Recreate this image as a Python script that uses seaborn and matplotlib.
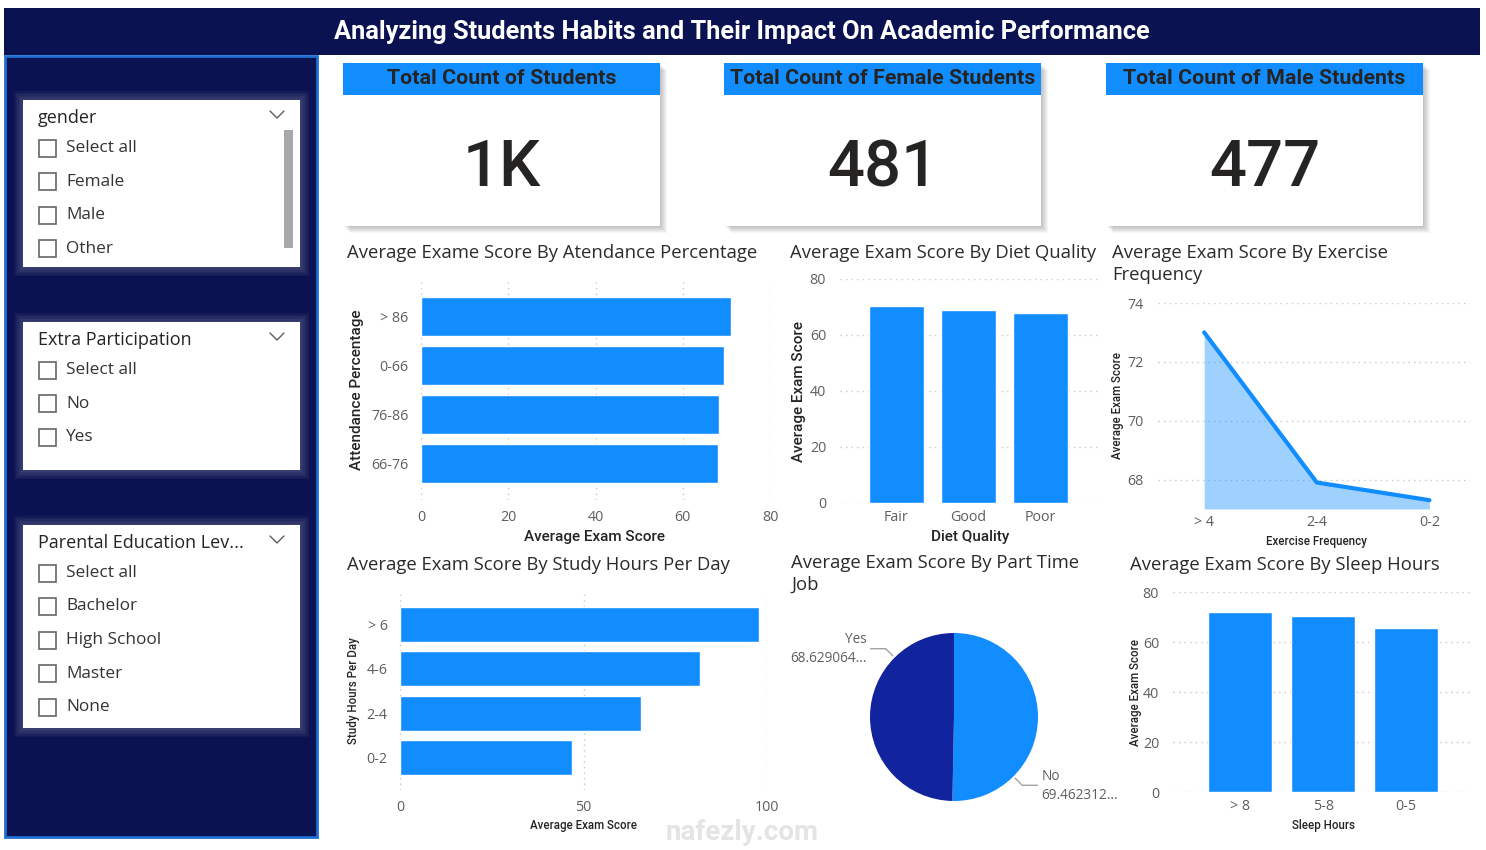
import numpy as np
import pandas as pd
import matplotlib
matplotlib.use("Agg")
import matplotlib.pyplot as plt
import seaborn as sns
from matplotlib.patches import Rectangle

# ---------------- data ----------------
page_title = "Analyzing Students Habits and Their Impact On Academic Performance"

kpi_titles = ["Total Count of Students", "Total Count of Female Students", "Total Count of Male Students"]
kpi_values = ["1K", "481", "477"]

slicer_titles = ["gender", "Extra Participation", "Parental Education Lev..."]
slicer_items = [
    ["Select all", "Female", "Male", "Other"],
    ["Select all", "No", "Yes"],
    ["Select all", "Bachelor", "High School", "Master", "None"],
]

attendance_cats = ["> 86", "0-66", "76-86", "66-76"]
attendance_scores = [71.0, 69.4, 68.3, 68.1]

diet_cats = ["Fair", "Good", "Poor"]
diet_scores = [70.3, 68.9, 67.8]

exercise_cats = ["> 4", "2-4", "0-2"]
exercise_scores = [73.0, 67.9, 67.3]

study_cats = ["> 6", "4-6", "2-4", "0-2"]
study_scores = [97.9, 81.8, 65.7, 46.8]

parttime_cats = ["No", "Yes"]
parttime_scores = [69.462312, 68.629064]
parttime_labels = ["69.462312...", "68.629064..."]

sleep_cats = ["> 8", "5-8", "0-5"]
sleep_scores = [71.9, 70.3, 65.5]

# ---------------- style ----------------
W, H = 1486, 850
BLUE = "#118DFF"
NAVY = "#12239E"
DARK = "#0B1251"
TXT = "#252423"
TICK = "#605E5C"
GRID = "#C8C8C8"
TICKFONT = ["Open Sans", "DejaVu Sans"]

sns.set_theme(style="white")
plt.rcParams["font.family"] = ["Roboto", "DejaVu Sans"]

fig = plt.figure(figsize=(W / 100, H / 100), dpi=100)
fig.patch.set_facecolor("white")

bg = fig.add_axes([0, 0, 1, 1])
bg.set_xlim(0, W)
bg.set_ylim(H, 0)
bg.axis("off")


def rect_px(x0, y0, x1, y1):
    return [x0 / W, 1 - y1 / H, (x1 - x0) / W, (y1 - y0) / H]


def box(x0, y0, x1, y1, **kw):
    bg.add_patch(Rectangle((x0, y0), x1 - x0, y1 - y0, **kw))


# header
box(4, 8, 1480, 55, facecolor=DARK, edgecolor="none")
bg.text(742, 32, page_title, color="white", fontsize=18.3, fontweight="bold",
        ha="center", va="center", family=["Roboto", "DejaVu Sans"])

# left panel
box(5, 56, 317, 837, facecolor=DARK, edgecolor="#1F6FD1", linewidth=2)

slicer_boxes = [(23, 100, 300, 267), (23, 322, 300, 470), (23, 525, 300, 728)]
for (x0, y0, x1, y1), title, items in zip(slicer_boxes, slicer_titles, slicer_items):
    for g in range(6, 0, -1):
        box(x0 - g * 1.5, y0 - g * 1.5, x1 + g * 1.5, y1 + g * 1.5,
            facecolor="white", alpha=0.035, edgecolor="none")
    box(x0, y0, x1, y1, facecolor="white", edgecolor="none")
    bg.text(38, y0 + 18, title, color=TXT, fontsize=13, ha="left", va="center",
            family=["Open Sans", "DejaVu Sans"])
    bg.plot([270, 277, 284], [y0 + 11, y0 + 18, y0 + 11], color="#605E5C", lw=1)
    for i, it in enumerate(items):
        yy = y0 + 48 + i * 33.5
        box(38.5, yy - 8.5, 55.5, yy + 8.5, facecolor="white", edgecolor="#666666", lw=1.2)
        bg.text(66, yy, it, color="#333333", fontsize=12.4, ha="left", va="center",
                family=["Open Sans", "DejaVu Sans"])
# scrollbar in gender slicer
box(284, 130, 293, 248, facecolor="#A8A8A8", edgecolor="none")

# KPI cards
card_x = [(343, 660), (724, 1041), (1106, 1423)]
for (x0, x1), t, v in zip(card_x, kpi_titles, kpi_values):
    for g in range(1, 8):
        box(x0 + g, 63 + g, x1 + g, 226 + g, facecolor="#000000", alpha=0.035, edgecolor="none")
    box(x0, 63, x1, 226, facecolor="white", edgecolor="none")
    box(x0, 63, x1, 95, facecolor=BLUE, edgecolor="none")
    bg.text((x0 + x1) / 2, 78, t, color=TXT, fontsize=15.4, fontweight="bold",
            ha="center", va="center", family=["Roboto", "DejaVu Sans"])
    bg.text((x0 + x1) / 2, 168, v, color=TXT, fontsize=47, fontweight="medium",
            ha="center", va="center", family=["Roboto", "DejaVu Sans"])


def chart_title(x, y, s):
    bg.text(x, y, s, color="#2B2B2B", fontsize=13.3, ha="left", va="center",
            linespacing=1.3, family=["Open Sans", "DejaVu Sans"])


def style_ax(ax, grid_axis):
    ax.set_facecolor("none")
    for s in ax.spines.values():
        s.set_visible(False)
    ax.grid(axis=grid_axis, linestyle=(0, (1, 3)), color=GRID, linewidth=1)
    ax.set_axisbelow(True)
    ax.tick_params(length=0, labelcolor=TICK, labelsize=10.3)
    for lab in ax.get_xticklabels() + ax.get_yticklabels():
        lab.set_family(TICKFONT)


def place_label(ax, rect, which, px, py, text, size, weight="medium"):
    x0, y0, x1, y1 = rect
    axx = (px - x0) / (x1 - x0)
    axy = (y1 - py) / (y1 - y0)
    if which == "x":
        ax.set_xlabel(text, fontsize=size, color=TXT, fontweight=weight)
        ax.xaxis.set_label_coords(axx, axy)
        ax.xaxis.label.set_va("center")
    else:
        ax.set_ylabel(text, fontsize=size, color=TXT, fontweight=weight)
        ax.yaxis.set_label_coords(axx, axy)
        ax.yaxis.label.set_va("center")
        ax.yaxis.label.set_ha("center")


# ---- chart 1: attendance ----
chart_title(347, 253, "Average Exame Score By Atendance Percentage")
r1 = (421, 280, 770, 500)
ax1 = fig.add_axes(rect_px(*r1))
df1 = pd.DataFrame({"cat": attendance_cats, "score": attendance_scores})
sns.barplot(data=df1, x="score", y="cat", orient="h", order=attendance_cats,
            color=BLUE, saturation=1, width=0.8, ax=ax1)
ax1.set_xlim(0, 80)
ax1.set_xticks([0, 20, 40, 60, 80])
ax1.set_ylim(3.74, -0.74)
style_ax(ax1, "x")
ax1.tick_params(axis="x", pad=7)
ax1.tick_params(axis="y", pad=9)
place_label(ax1, r1, "x", 595, 537, "Average Exam Score", 11)
place_label(ax1, r1, "y", 357, 390, "Attendance Percentage", 11)

# ---- chart 2: diet ----
chart_title(790, 253, "Average Exam Score By Diet Quality")
r2 = (840, 279, 1100, 503)
ax2 = fig.add_axes(rect_px(*r2))
df2 = pd.DataFrame({"cat": diet_cats, "score": diet_scores})
sns.barplot(data=df2, x="cat", y="score", order=diet_cats, color=BLUE,
            saturation=1, width=0.76, ax=ax2)
ax2.set_ylim(0, 80)
ax2.set_yticks([0, 20, 40, 60, 80])
ax2.set_xlim(-0.78, 2.82)
style_ax(ax2, "y")
ax2.tick_params(axis="x", pad=5)
ax2.tick_params(axis="y", pad=10)
place_label(ax2, r2, "x", 970, 537, "Diet Quality", 11)
place_label(ax2, r2, "y", 799, 391, "Average Exam Score", 11)

# ---- chart 3: exercise ----
chart_title(1112, 264, "Average Exam Score By Exercise\nFrequency")
r3 = (1158, 303, 1470, 509)
ax3 = fig.add_axes(rect_px(*r3))
df3 = pd.DataFrame({"cat": exercise_cats, "score": exercise_scores})
sns.lineplot(data=df3, x="cat", y="score", sort=False, color=BLUE, linewidth=3, ax=ax3)
ax3.fill_between(df3["cat"], df3["score"], 67, color=BLUE, alpha=0.4, linewidth=0)
ax3.set_ylim(67, 74)
ax3.set_yticks([68, 70, 72, 74])
ax3.set_xlim(-0.41, 2.36)
style_ax(ax3, "y")
ax3.tick_params(axis="x", pad=4)
ax3.tick_params(axis="y", pad=10)
place_label(ax3, r3, "x", 1316, 541, "Exercise Frequency", 8.3)
place_label(ax3, r3, "y", 1118, 405, "Average Exam Score", 8.3)

# ---- chart 4: study hours ----
chart_title(347, 565, "Average Exam Score By Study Hours Per Day")
r4 = (400, 592, 767, 790)
ax4 = fig.add_axes(rect_px(*r4))
df4 = pd.DataFrame({"cat": study_cats, "score": study_scores})
sns.barplot(data=df4, x="score", y="cat", orient="h", order=study_cats,
            color=BLUE, saturation=1, width=0.79, ax=ax4)
ax4.set_xlim(0, 100)
ax4.set_xticks([0, 50, 100])
ax4.set_ylim(3.73, -0.73)
style_ax(ax4, "x")
ax4.tick_params(axis="x", pad=7)
ax4.tick_params(axis="y", pad=9)
place_label(ax4, r4, "x", 583, 826, "Average Exam Score", 8.3)
place_label(ax4, r4, "y", 353, 691, "Study Hours Per Day", 8.3)

# ---- chart 5: part-time job pie ----
chart_title(791, 574, "Average Exam Score By Part Time\nJob")
r5 = (870, 633, 1038, 801)
ax5 = fig.add_axes(rect_px(*r5))
ax5.pie(parttime_scores, colors=[BLUE, NAVY], startangle=90, counterclock=False,
        radius=1.0, wedgeprops=dict(linewidth=0))
ax5.set_xlim(-1, 1)
ax5.set_ylim(-1, 1)
ax5.set_aspect("equal")
ax5.axis("off")
label_angles = [-45, 135]
for cat, lab, ang in zip(parttime_cats, parttime_labels, label_angles):
    a = np.deg2rad(ang)
    cx, cy = np.cos(a), np.sin(a)
    p0 = (1.03 * cx, 1.03 * cy)
    p1 = (1.15 * cx, 1.15 * cy)
    sgn = 1 if cx > 0 else -1
    p2 = (p1[0] + sgn * 0.18, p1[1])
    ax5.plot([p0[0], p1[0], p2[0]], [p0[1], p1[1], p2[1]], color="#A0A0A0", lw=1, clip_on=False)
    ha = "left" if sgn > 0 else "right"
    tx = p2[0] + sgn * 0.05
    ax5.text(tx, p2[1] + 0.11, cat, ha=ha, va="center", fontsize=9.8, color=TICK,
             family=TICKFONT)
    ax5.text(tx, p2[1] - 0.12, lab, ha=ha, va="center", fontsize=9.8, color=TICK,
             family=TICKFONT)

# ---- chart 6: sleep ----
chart_title(1130, 565, "Average Exam Score By Sleep Hours")
r6 = (1173, 592, 1470, 792)
ax6 = fig.add_axes(rect_px(*r6))
df6 = pd.DataFrame({"cat": sleep_cats, "score": sleep_scores})
sns.barplot(data=df6, x="cat", y="score", order=sleep_cats, color=BLUE,
            saturation=1, width=0.77, ax=ax6)
ax6.set_ylim(0, 80)
ax6.set_yticks([0, 20, 40, 60, 80])
ax6.set_xlim(-0.81, 2.77)
style_ax(ax6, "y")
ax6.tick_params(axis="x", pad=5)
ax6.tick_params(axis="y", pad=10)
place_label(ax6, r6, "x", 1324, 825, "Sleep Hours", 8.3)
place_label(ax6, r6, "y", 1135, 692, "Average Exam Score", 8.3)

# watermark
fig.text(742 / W, 1 - 832 / H, "nafezly.com", color="#E4E4E4", fontsize=20,
         fontweight="bold", ha="center", va="center", zorder=10)

fig.savefig("out.png", dpi=100, facecolor="white")
